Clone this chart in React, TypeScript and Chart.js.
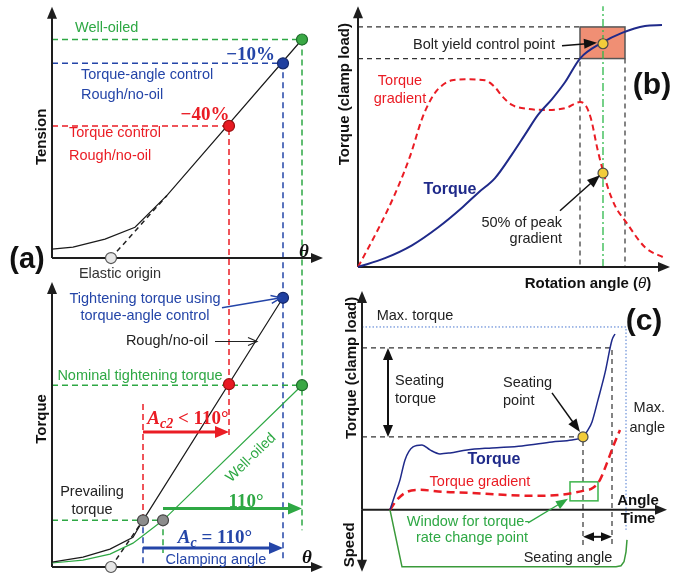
import React, { useEffect, useRef } from 'react';
import { Chart, registerables } from 'chart.js';

Chart.register(...registerables);

// ---------------- DATA ----------------
// Panel (a), upper plot: tension vs rotation angle θ (own units, origin at the upper θ axis)
const aTopTheta = [0, 21, 53, 83, 115, 250];
const aTopTension = [9, 11, 19, 31, 63, 220];
const aTopMarkTheta = [250, 231, 177]; // well-oiled, torque-angle control, torque control
const aTopMarkTension = [220, 196, 133];
const aElasticTheta = 59;
// Panel (a), lower plot: torque vs θ
const aRoughTheta = [0, 31, 58, 81, 91, 231];
const aRoughTorque = [5, 10, 18, 30, 47, 271];
const aOiledTheta = [0, 31, 58, 81, 111, 250];
const aOiledTorque = [4, 7, 13, 24, 47, 183];
const aBotMarkTheta = [231, 177, 250, 91, 111];
const aBotMarkTorque = [271, 184, 183, 47, 47];
const A_TOP_BASE = 311; // value of the shared y scale at which the upper θ axis sits

// Panel (b): torque and torque gradient vs rotation angle
const bAngle = [0, 27, 54, 80, 104, 120, 137, 154, 167, 180, 194, 207, 222, 244, 264, 287, 304];
const bTorque = [0, 9, 22, 40, 60, 75, 90, 114, 134, 154, 170, 187, 211, 227, 237, 244, 245];
const bGradAngle = [0, 20, 37, 52, 64, 72, 80, 94, 107, 127, 136, 145, 154, 170, 190, 208, 222, 228, 233, 240, 250, 258, 267, 287, 307];
const bGradient = [0, 38, 74, 112, 150, 168, 180, 189, 190, 189, 183, 172, 164, 160, 159, 161, 167, 163, 150, 117, 80, 60, 47, 20, 9];
const bMarkAngle = [245, 245];
const bMarkValue = [226, 95];

// Panel (c): torque, torque gradient and speed vs angle/time
const cAngle = [28, 33, 38, 43, 51, 60, 68, 78, 88, 105, 130, 160, 190, 210, 221, 226, 230, 236, 243, 250, 253];
const cTorque = [0, 15, 30, 50, 63, 65, 60, 56, 57, 60, 62, 64, 68, 70, 73, 80, 88, 110, 137, 170, 176];
const cGradAngle = [28, 35, 45, 58, 81, 108, 141, 170, 198, 221, 231, 238, 245, 251, 258];
const cGradient = [0, 10, 18, 20, 18, 17, 15, 14, 15, 19, 22, 30, 47, 63, 80];
const cSpeedAngle = [28, 40, 254, 259, 262, 264, 265];
const cSpeed = [0, -57, -57, -56, -52, -42, -30];
const cSeatAngle = 221;
const cSeatTorque = 73;

// ---------------- STYLE ----------------
const SANS = '"Liberation Sans", Arial, Helvetica, sans-serif';
const SERIF = '"Liberation Serif", "Times New Roman", serif';
const AX = '#1e1e1e';
const GREEN = '#2ea844';
const BLUE = '#2445a8';
const RED = '#ea1c24';
const NAVY = '#1f2a8a';
const TXT = '#222222';
const F = (size: number, bold = false, italic = false, fam = SANS) =>
  `${italic ? 'italic ' : ''}${bold ? 'bold ' : ''}${size}px ${fam}`;
const FS = 14.5;

// ---------------- DRAWING PLUGIN ----------------
function head(ctx: CanvasRenderingContext2D, x: number, y: number, a: number, hl: number, hw: number, open: boolean) {
  ctx.save();
  ctx.translate(x, y);
  ctx.rotate(a);
  ctx.setLineDash([]);
  ctx.beginPath();
  ctx.moveTo(-hl, -hw / 2);
  ctx.lineTo(0, 0);
  ctx.lineTo(-hl, hw / 2);
  if (open) ctx.stroke();
  else {
    ctx.closePath();
    ctx.fill();
  }
  ctx.restore();
}

function drawItems(chart: any, items: any[], layer: string) {
  const ctx: CanvasRenderingContext2D = chart.ctx;
  const X = (v: number) => chart.scales.x.getPixelForValue(v);
  const Y = (v: number) => chart.scales.y.getPixelForValue(v);
  for (const it of items) {
    const lay = it.layer || (it.k === 'line' || it.k === 'rect' ? 'under' : 'over');
    if (lay !== layer) continue;
    ctx.save();
    if (it.k === 'line') {
      ctx.strokeStyle = it.color;
      ctx.lineWidth = it.w ?? 1.5;
      ctx.setLineDash(it.dash ?? []);
      ctx.beginPath();
      it.pts.forEach((p: number[], i: number) =>
        i ? ctx.lineTo(X(p[0]), Y(p[1])) : ctx.moveTo(X(p[0]), Y(p[1]))
      );
      ctx.stroke();
    } else if (it.k === 'rect') {
      const x1 = X(it.from[0]), y1 = Y(it.from[1]), x2 = X(it.to[0]), y2 = Y(it.to[1]);
      if (it.fill) {
        ctx.fillStyle = it.fill;
        ctx.fillRect(x1, y1, x2 - x1, y2 - y1);
      }
      if (it.stroke) {
        ctx.strokeStyle = it.stroke;
        ctx.lineWidth = it.w ?? 1;
        ctx.strokeRect(x1, y1, x2 - x1, y2 - y1);
      }
    } else if (it.k === 'arrow') {
      const [hl, hw] = it.head ?? [10, 8];
      const x1 = X(it.from[0]), y1 = Y(it.from[1]), x2 = X(it.to[0]), y2 = Y(it.to[1]);
      const a = Math.atan2(y2 - y1, x2 - x1);
      const cut = it.open ? 0 : hl * 0.8;
      ctx.strokeStyle = it.color;
      ctx.fillStyle = it.color;
      ctx.lineWidth = it.w ?? 1.5;
      ctx.beginPath();
      const s = it.both ? cut : 0;
      ctx.moveTo(x1 + Math.cos(a) * s, y1 + Math.sin(a) * s);
      ctx.lineTo(x2 - Math.cos(a) * cut, y2 - Math.sin(a) * cut);
      ctx.stroke();
      head(ctx, x2, y2, a, hl, hw, !!it.open);
      if (it.both) head(ctx, x1, y1, a + Math.PI, hl, hw, !!it.open);
    } else if (it.k === 'text') {
      ctx.fillStyle = it.color ?? TXT;
      ctx.font = it.font ?? F(FS);
      ctx.textAlign = it.align ?? 'center';
      ctx.textBaseline = 'middle';
      ctx.translate(X(it.at[0]), Y(it.at[1]));
      if (it.rot) ctx.rotate(it.rot);
      ctx.fillText(it.text, 0, 0);
    } else if (it.k === 'rich') {
      ctx.fillStyle = it.color ?? TXT;
      ctx.textBaseline = 'alphabetic';
      ctx.textAlign = 'left';
      let total = 0;
      const widths = it.parts.map((p: any) => {
        ctx.font = p.f;
        const w = ctx.measureText(p.t).width;
        total += w;
        return w;
      });
      let x = X(it.at[0]);
      if ((it.align ?? 'center') === 'center') x -= total / 2;
      else if (it.align === 'right') x -= total;
      const y = Y(it.at[1]) + (it.base ?? 6);
      it.parts.forEach((p: any, i: number) => {
        ctx.font = p.f;
        ctx.fillText(p.t, x, y + (p.dy ?? 0));
        x += widths[i];
      });
    }
    ctx.restore();
  }
}

const makeDeco = (items: any[]) => ({
  id: 'deco',
  beforeDatasetsDraw(chart: any) {
    drawItems(chart, items, 'under');
  },
  afterDatasetsDraw(chart: any) {
    drawItems(chart, items, 'over');
  },
});

// ---------------- HELPERS ----------------
const zip = (xs: number[], ys: number[], dy = 0) => xs.map((x, i) => ({ x, y: ys[i] + dy }));
const lineDS = (data: any[], color: string, w: number, extra: any = {}) => ({
  type: 'line',
  data,
  borderColor: color,
  borderWidth: w,
  pointRadius: 0,
  fill: false,
  tension: 0,
  clip: false,
  ...extra,
});
const markDS = (data: any[], fills: string[], borders: string[], r: number) => ({
  type: 'scatter',
  data,
  pointRadius: r,
  pointBackgroundColor: fills,
  pointBorderColor: borders,
  pointBorderWidth: 1.2,
  showLine: false,
  clip: false,
});
const axis = (from: number[], to: number[], both = false) => ({
  k: 'arrow', from, to, color: AX, w: 2, head: [12, 10], both,
});

function baseConfig(datasets: any[], items: any[], padding: any, xr: number[], yr: number[]) {
  return {
    type: 'line',
    data: { datasets },
    options: {
      responsive: false,
      animation: false,
      devicePixelRatio: 1,
      events: [],
      layout: { padding },
      plugins: { legend: { display: false }, tooltip: { enabled: false } },
      scales: {
        x: { type: 'linear', min: xr[0], max: xr[1], display: false },
        y: { type: 'linear', min: yr[0], max: yr[1], display: false },
      },
    },
    plugins: [makeDeco(items)],
  };
}

const MG = '#3aa845', MGb = '#1d6b2a';
const MB = '#2040a0', MBb = '#14286a';
const MR = '#e81a22', MRb = '#9a1010';
const MGR = '#8c8c8c', MGRb = '#444';
const MW = '#e6e6e6', MWb = '#555';
const MY = '#f2cc3a', MYb = '#4a4a4a';

// ---------------- PANEL (a) ----------------
function configA() {
  const T = A_TOP_BASE;
  const d = [6, 4];
  const mathF = (s: number, it = false) => F(s, true, it, SERIF);
  const items = [
    // guide lines, upper plot
    { k: 'line', pts: [[0, T + 220], [250, T + 220], [250, 37]], color: GREEN, w: 1.5, dash: d },
    { k: 'line', pts: [[0, T + 196], [231, T + 196], [231, 7]], color: BLUE, w: 1.5, dash: d },
    { k: 'line', pts: [[0, T + 133], [177, T + 133], [177, 129]], color: RED, w: 1.5, dash: d },
    { k: 'line', pts: [[aElasticTheta, T], [115, T + 63]], color: '#222', w: 1.5, dash: [5, 4] },
    // guide lines, lower plot
    { k: 'line', pts: [[0, 183], [250, 183]], color: GREEN, w: 1.5, dash: d },
    { k: 'line', pts: [[0, 47], [111, 47], [111, 14]], color: GREEN, w: 1.5, dash: d },
    { k: 'line', pts: [[91, 164], [91, 47]], color: RED, w: 1.5, dash: d },
    { k: 'line', pts: [[91, 40], [91, 0]], color: BLUE, w: 1.5, dash: d },
    { k: 'line', pts: [[aElasticTheta, 0], [91, 47]], color: '#222', w: 1.5, dash: [5, 4] },
    // axes
    { ...axis([0, T], [0, T + 253]), layer: 'under' },
    { ...axis([0, T], [271, T]), layer: 'under' },
    { ...axis([0, 0], [0, 287]), layer: 'under' },
    { ...axis([0, 0], [271, 0]), layer: 'under' },
    // angle arrows
    { k: 'arrow', from: [91, 136], to: [177, 136], color: RED, w: 3, head: [14, 12] },
    { k: 'arrow', from: [111, 59], to: [250, 59], color: GREEN, w: 3, head: [14, 12] },
    { k: 'arrow', from: [91, 19], to: [231, 19], color: BLUE, w: 3, head: [14, 12] },
    { k: 'arrow', from: [170, 261], to: [229, 271], color: BLUE, w: 1.5, head: [10, 8], open: true },
    { k: 'arrow', from: [163, 227], to: [205, 227], color: '#222', w: 1.2, head: [9, 8], open: true },
    // texts
    { k: 'text', at: [-25, 309], text: '(a)', font: F(29, true), color: '#111' },
    { k: 'text', at: [-10, 433], text: 'Tension', font: F(15, true), rot: -Math.PI / 2, color: '#111' },
    { k: 'text', at: [-10, 149], text: 'Torque', font: F(15, true), rot: -Math.PI / 2, color: '#111' },
    { k: 'text', at: [68, T - 16], text: 'Elastic origin', color: '#333' },
    { k: 'text', at: [23, T + 232], text: 'Well-oiled', color: GREEN, align: 'left' },
    { k: 'rich', at: [223, T + 205], align: 'right', color: BLUE, parts: [{ t: '−10%', f: mathF(19) }] },
    { k: 'text', at: [29, T + 184], text: 'Torque-angle control', color: BLUE, align: 'left' },
    { k: 'text', at: [29, T + 164], text: 'Rough/no-oil', color: BLUE, align: 'left' },
    { k: 'rich', at: [153, T + 145], color: RED, parts: [{ t: '−40%', f: mathF(19) }] },
    { k: 'text', at: [17, T + 126], text: 'Torque control', color: RED, align: 'left' },
    { k: 'text', at: [17, T + 103], text: 'Rough/no-oil', color: RED, align: 'left' },
    { k: 'rich', at: [252, T + 7], color: '#111', parts: [{ t: 'θ', f: mathF(19, true) }] },
    { k: 'rich', at: [255, 10], color: '#111', parts: [{ t: 'θ', f: mathF(19, true) }] },
    { k: 'text', at: [93, 270], text: 'Tightening torque using', color: BLUE },
    { k: 'text', at: [93, 253], text: 'torque-angle control', color: BLUE },
    { k: 'text', at: [115, 227], text: 'Rough/no-oil', color: TXT },
    { k: 'text', at: [88, 192], text: 'Nominal tightening torque', color: GREEN },
    { k: 'text', at: [40, 75], text: 'Prevailing', color: TXT },
    { k: 'text', at: [40, 57], text: 'torque', color: TXT },
    { k: 'text', at: [199, 110], text: 'Well-oiled', color: GREEN, rot: -0.77 },
    {
      k: 'rich', at: [136, 150], color: RED,
      parts: [{ t: 'A', f: mathF(19, true) }, { t: 'c2', f: mathF(14, true), dy: 4 }, { t: ' < 110°', f: mathF(19) }],
    },
    { k: 'rich', at: [194, 66], color: GREEN, parts: [{ t: '110°', f: mathF(19) }] },
    {
      k: 'rich', at: [163, 30], color: BLUE,
      parts: [{ t: 'A', f: mathF(19, true) }, { t: 'c', f: mathF(14, true), dy: 4 }, { t: ' = 110°', f: mathF(19) }],
    },
    { k: 'text', at: [164, 7], text: 'Clamping angle', color: BLUE },
  ];
  const topMarks = aTopMarkTheta.map((x, i) => ({ x, y: aTopMarkTension[i] + T }));
  const botMarks = aBotMarkTheta.map((x, i) => ({ x, y: aBotMarkTorque[i] }));
  const datasets = [
    markDS(
      [...topMarks, ...botMarks, { x: aElasticTheta, y: T }, { x: aElasticTheta, y: 0 }],
      [MG, MB, MR, MB, MR, MG, MGR, MGR, MW, MW],
      [MGb, MBb, MRb, MBb, MRb, MGb, MGRb, MGRb, MWb, MWb],
      5.5
    ),
    lineDS(zip(aTopTheta, aTopTension, T), '#1a1a1a', 1.2),
    lineDS(zip(aRoughTheta, aRoughTorque), '#1a1a1a', 1.2),
    lineDS(zip(aOiledTheta, aOiledTorque), GREEN, 1.2),
  ];
  return baseConfig(datasets, items, { left: 52, right: 368, top: 3, bottom: 11 }, [0, 271], [0, 564]);
}

// ---------------- PANEL (b) ----------------
function configB() {
  const d = [5, 4];
  const items = [
    { k: 'line', pts: [[0, 243], [222, 243]], color: '#333', w: 1.2, dash: d },
    { k: 'line', pts: [[0, 211], [222, 211], [222, 0]], color: '#333', w: 1.2, dash: d },
    { k: 'line', pts: [[267, 211], [267, 0]], color: '#333', w: 1.2, dash: d },
    { k: 'rect', from: [222, 243], to: [267, 211], fill: '#f08f74', stroke: '#555', w: 1.5 },
    { k: 'line', pts: [[245, 0], [245, 264]], color: '#2db84a', w: 1.3, dash: [8, 3, 2, 3] },
    { ...axis([0, 0], [0, 264]), layer: 'under' },
    { ...axis([0, 0], [312, 0]), layer: 'under' },
    { k: 'text', at: [-13, 175], text: 'Torque (clamp load)', font: F(15, true), rot: -Math.PI / 2, color: '#111' },
    { k: 'text', at: [126, 225], text: 'Bolt yield control point', color: TXT },
    { k: 'arrow', from: [204, 224], to: [239, 227], color: '#111', w: 1.5, head: [13, 10] },
    { k: 'text', at: [42, 188], text: 'Torque', color: RED },
    { k: 'text', at: [42, 170], text: 'gradient', color: RED },
    { k: 'text', at: [294, 183], text: '(b)', font: F(30, true), color: '#111' },
    { k: 'text', at: [92, 78], text: 'Torque', font: F(16, true), color: NAVY },
    { k: 'text', at: [204, 45], text: '50% of peak', color: TXT, align: 'right' },
    { k: 'text', at: [204, 28], text: 'gradient', color: TXT, align: 'right' },
    { k: 'arrow', from: [202, 57], to: [242, 93], color: '#111', w: 1.5, head: [13, 10] },
    {
      k: 'rich', at: [230, -16], color: '#111', base: 5,
      parts: [{ t: 'Rotation angle (', f: F(15, true) }, { t: 'θ', f: F(15, false, true) }, { t: ')', f: F(15, true) }],
    },
  ];
  const datasets = [
    markDS(zip(bMarkAngle, bMarkValue), [MY, MY], [MYb, MYb], 5),
    lineDS(zip(bAngle, bTorque), NAVY, 2, { cubicInterpolationMode: 'monotone' }),
    lineDS(zip(bGradAngle, bGradient), RED, 2, { cubicInterpolationMode: 'monotone', borderDash: [6, 4] }),
  ];
  return baseConfig(datasets, items, { left: 358, right: 21, top: 3, bottom: 311 }, [0, 312], [0, 264]);
}

// ---------------- PANEL (c) ----------------
function configC() {
  const d = [5, 4];
  const items = [
    { k: 'line', pts: [[0, 183], [264, 183], [264, -20]], color: '#4a78d0', w: 1, dash: [1.5, 2] },
    { k: 'line', pts: [[0, 162], [250, 162], [250, -37]], color: '#333', w: 1.2, dash: d },
    { k: 'line', pts: [[0, cSeatTorque], [cSeatAngle, cSeatTorque], [cSeatAngle, -37]], color: '#333', w: 1.2, dash: d },
    { k: 'rect', from: [208, 28], to: [236, 9], stroke: '#3cb44b', w: 1.5 },
    { ...axis([0, 0], [0, 219]), layer: 'under' },
    { ...axis([0, 0], [0, -62]), layer: 'under' },
    { ...axis([0, 0], [305, 0]), layer: 'under' },
    { k: 'text', at: [-10, 142], text: 'Torque (clamp load)', font: F(15, true), rot: -Math.PI / 2, color: '#111' },
    { k: 'text', at: [-12, -35], text: 'Speed', font: F(15, true), rot: -Math.PI / 2, color: '#111' },
    { k: 'text', at: [53, 194], text: 'Max. torque', color: TXT },
    { k: 'text', at: [282, 188], text: '(c)', font: F(30, true), color: '#111' },
    { k: 'arrow', from: [26, 162], to: [26, 73], color: '#111', w: 2, head: [12, 10], both: true },
    { k: 'text', at: [33, 129], text: 'Seating', color: TXT, align: 'left' },
    { k: 'text', at: [33, 111], text: 'torque', color: TXT, align: 'left' },
    { k: 'text', at: [141, 127], text: 'Seating', color: TXT, align: 'left' },
    { k: 'text', at: [141, 109], text: 'point', color: TXT, align: 'left' },
    { k: 'arrow', from: [190, 117], to: [218, 78], color: '#111', w: 1.5, head: [13, 10] },
    { k: 'text', at: [132, 50], text: 'Torque', font: F(16, true), color: NAVY },
    { k: 'text', at: [118, 28], text: 'Torque gradient', color: RED },
    { k: 'text', at: [106, -12], text: 'Window for torque-', color: GREEN },
    { k: 'text', at: [110, -28], text: 'rate change point', color: GREEN },
    { k: 'arrow', from: [166, -13], to: [206, 11], color: GREEN, w: 1.3, head: [12, 9] },
    { k: 'text', at: [303, 102], text: 'Max.', color: TXT, align: 'right' },
    { k: 'text', at: [303, 82], text: 'angle', color: TXT, align: 'right' },
    { k: 'text', at: [276, 9], text: 'Angle', font: F(15, true), color: '#111' },
    { k: 'text', at: [276, -9], text: 'Time', font: F(15, true), color: '#111' },
    { k: 'arrow', from: [cSeatAngle, -27], to: [250, -27], color: '#111', w: 2, head: [11, 9], both: true },
    { k: 'text', at: [206, -48], text: 'Seating angle', color: TXT },
  ];
  const datasets = [
    markDS([{ x: cSeatAngle, y: cSeatTorque }], [MY], [MYb], 5),
    lineDS(zip(cAngle, cTorque), NAVY, 1.5, { cubicInterpolationMode: 'monotone' }),
    lineDS(zip(cGradAngle, cGradient), RED, 2.5, { cubicInterpolationMode: 'monotone', borderDash: [8, 5] }),
    lineDS(zip(cSpeedAngle, cSpeed), '#3a9a3a', 1.5),
  ];
  return baseConfig(datasets, items, { left: 362, right: 24, top: 291, bottom: 6 }, [0, 305], [-62, 219]);
}

// ---------------- REACT ----------------
function ChartCanvas({ build }: { build: () => any }) {
  const ref = useRef<HTMLCanvasElement>(null);
  useEffect(() => {
    const chart = new Chart(ref.current as HTMLCanvasElement, build());
    return () => chart.destroy();
  }, []);
  return (
    <canvas
      ref={ref}
      width={691}
      height={578}
      style={{ position: 'absolute', left: 0, top: 0, width: 691, height: 578 }}
    />
  );
}

export default function App() {
  return (
    <div
      style={{
        position: 'fixed',
        left: 0,
        top: 0,
        width: 691,
        height: 578,
        background: '#ffffff',
        overflow: 'hidden',
      }}
    >
      <ChartCanvas build={configA} />
      <ChartCanvas build={configB} />
      <ChartCanvas build={configC} />
    </div>
  );
}
